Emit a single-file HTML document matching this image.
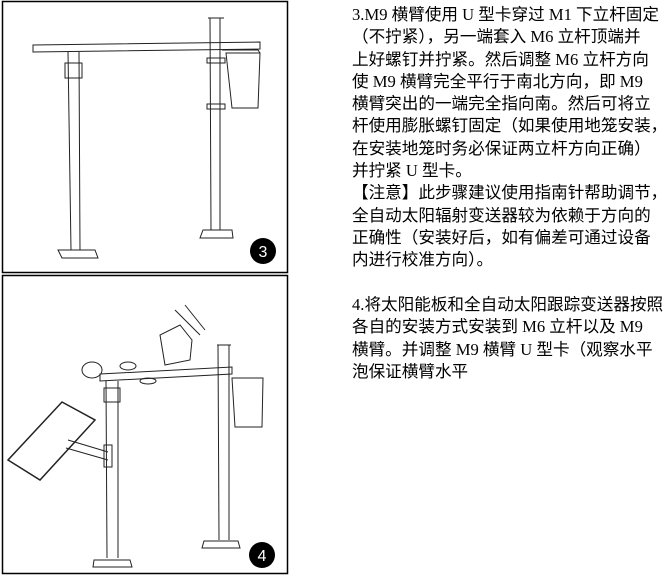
<!DOCTYPE html>
<html><head><meta charset="utf-8"><style>
body{margin:0;width:669px;height:576px;background:#fff;position:relative;overflow:hidden}
.t{position:absolute;left:352px;font-family:"Liberation Serif","Noto Sans CJK SC",serif;font-size:16.6px;line-height:22.3px;color:#000;white-space:nowrap}
svg{position:absolute;left:0;top:0}
</style></head><body>
<svg width="669" height="576" viewBox="0 0 669 576" fill="none" stroke="#222" stroke-width="1">
<rect x="2.5" y="1.5" width="285" height="271" stroke="#000" stroke-width="1.5"/>
<rect x="2.5" y="275.5" width="285" height="298" stroke="#000" stroke-width="1.5"/>
<!-- fig 3 -->
<path d="M33 45 L260 42 L260 49 L33 52 Z"/>
<rect x="65" y="63" width="17" height="15"/>
<path d="M68 52 L71 250 M79 52 L80 250"/>
<path d="M58 250 L95 250 L98 258 L62 258 Z"/>
<path d="M208 18 L224 18 M210 18 L211 230 M220 18 L220 230"/>
<path d="M203 230 L232 230 L233 238 L200 238 Z"/>
<path d="M226 53 L260 53 L258 108 L232 108 Z M222 50 L258 50 L260 53"/>
<rect x="207" y="58" width="18" height="5"/>
<rect x="207" y="104" width="18" height="5"/>
<circle cx="263" cy="251" r="13" fill="#000" stroke="none"/>
<text x="263" y="257" fill="#fff" stroke="none" font-family="Liberation Sans" font-size="16" text-anchor="middle">3</text>
<!-- fig 4 -->
<path d="M100 374 L232 367 L232 374 L100 381 Z"/>
<rect x="104" y="388" width="16" height="14"/>
<path d="M106 381 L107 558 M118 381 L118 558"/>
<path d="M94 560 L130 560 L132 567 L93 567 Z"/>
<path d="M217 345 L231 345 M218 345 L219 540 M229 345 L229 540"/>
<path d="M204 541 L238 541 L240 548 L202 548 Z"/>
<path d="M232 378 L263 378 L262 427 L235 427 Z"/>
<path d="M62 402 L95 420 L40 480 L8 460 Z" stroke-width="1.5"/>
<path d="M68 440 L108 452 M66 448 L108 460"/>
<rect x="104" y="445" width="8" height="22"/>
<ellipse cx="92" cy="370" rx="10" ry="8"/>
<ellipse cx="128" cy="366" rx="8" ry="4"/>
<ellipse cx="148" cy="381" rx="8" ry="3"/>
<path d="M165 365 L190 360 L192 340 L180 325 L160 335 Z"/>
<path d="M175 310 L200 335 M185 305 L205 330"/>
<circle cx="262" cy="555" r="13" fill="#000" stroke="none"/>
<text x="262" y="561" fill="#fff" stroke="none" font-family="Liberation Sans" font-size="16" text-anchor="middle">4</text>
</svg>
<div class="t" style="top:4px">3.M9 横臂使用 U 型卡穿过 M1 下立杆固定<br>（不拧紧），另一端套入 M6 立杆顶端并<br>上好螺钉并拧紧。然后调整 M6 立杆方向<br>使 M9 横臂完全平行于南北方向，即 M9<br>横臂突出的一端完全指向南。然后可将立<br>杆使用膨胀螺钉固定（如果使用地笼安装，<br>在安装地笼时务必保证两立杆方向正确）<br>并拧紧 U 型卡。<br>【注意】此步骤建议使用指南针帮助调节，<br>全自动太阳辐射变送器较为依赖于方向的<br>正确性（安装好后，如有偏差可通过设备<br>内进行校准方向）。</div>
<div class="t" style="top:294px">4.将太阳能板和全自动太阳跟踪变送器按照<br>各自的安装方式安装到 M6 立杆以及 M9<br>横臂。并调整 M9 横臂 U 型卡（观察水平<br>泡保证横臂水平</div>
</body></html>
